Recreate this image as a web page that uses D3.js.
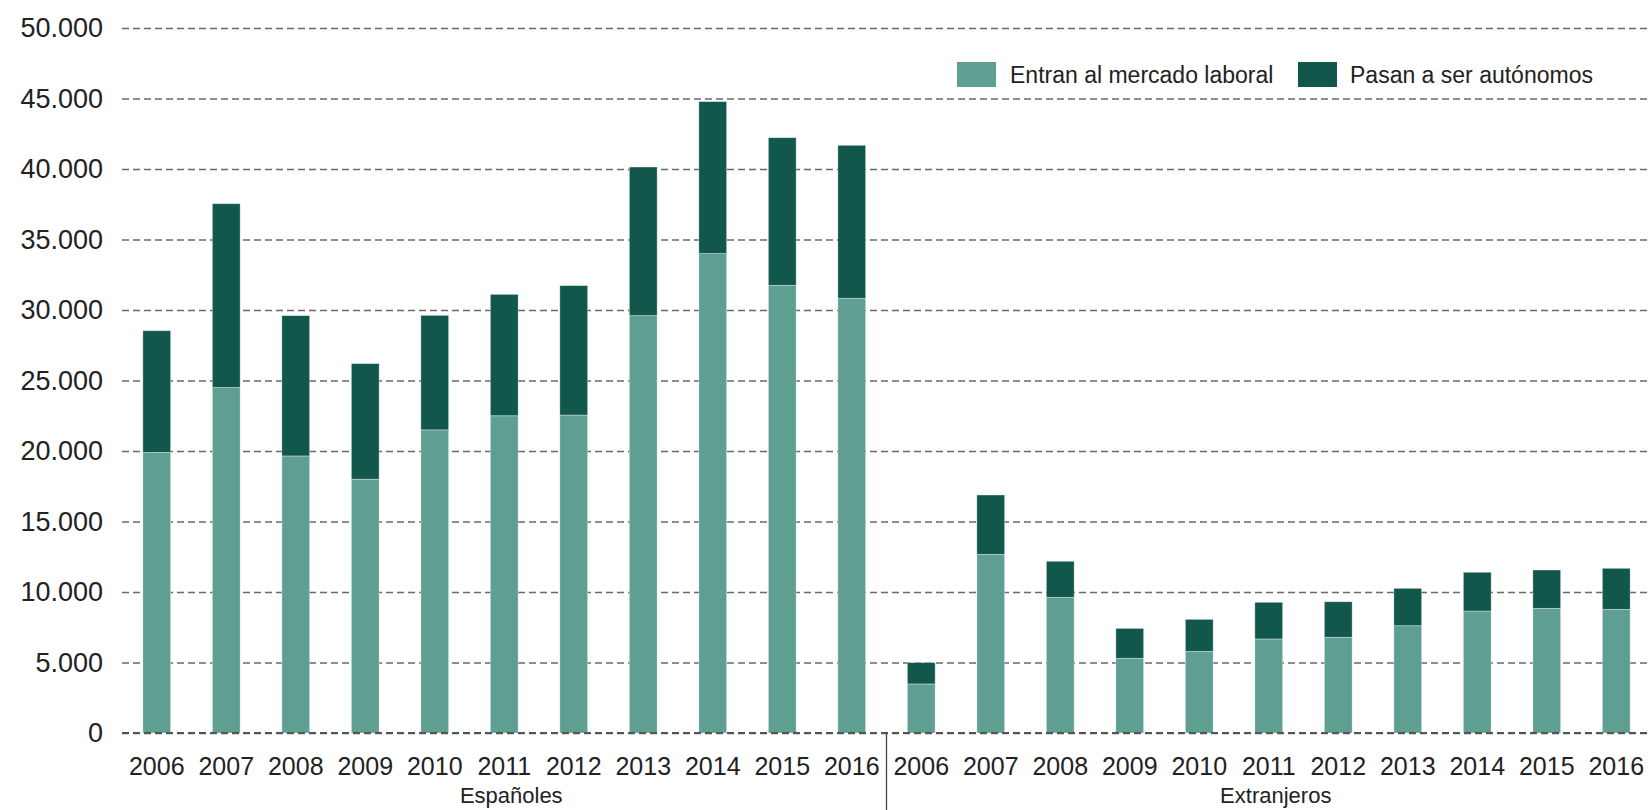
<!DOCTYPE html>
<html>
<head>
<meta charset="utf-8">
<script src="https://cdn.jsdelivr.net/npm/d3@7"></script>
<style>
  html, body { margin: 0; padding: 0; background: #fff; }
  svg { display: block; font-family: "Liberation Sans", Arial, sans-serif; }
</style>
</head>
<body>
<svg id="chart" width="1648" height="810"></svg>
<script>
// ---- data ----
const years = ["2006","2007","2008","2009","2010","2011","2012","2013","2014","2015","2016"];
const groups = ["Españoles", "Extranjeros"];
const seriesNames = ["Entran al mercado laboral", "Pasan a ser autónomos"];
const espEntran    = [19900, 24500, 19650, 18000, 21500, 22500, 22550, 29600, 34000, 31750, 30830];
const espAutonomos = [8630, 13040, 9950, 8200, 8120, 8610, 9180, 10540, 10780, 10470, 10850];
const extEntran    = [3480, 12670, 9620, 5300, 5790, 6670, 6790, 7610, 8650, 8840, 8770];
const extAutonomos = [1510, 4210, 2560, 2120, 2270, 2600, 2520, 2650, 2750, 2720, 2910];
const yTicks = [0, 5000, 10000, 15000, 20000, 25000, 30000, 35000, 40000, 45000, 50000];

const colors = ["#5e9f92", "#11574b"];

(function () {
// ---- build rows ----
const rows = [];
years.forEach((yr, i) => rows.push({key: "E-" + yr, group: groups[0], year: yr, entran: espEntran[i], autonomos: espAutonomos[i]}));
years.forEach((yr, i) => rows.push({key: "X-" + yr, group: groups[1], year: yr, entran: extEntran[i], autonomos: extAutonomos[i]}));

const svg = d3.select("#chart");
const W = 1648;
const mLeft = 122, mRight = 1651, mTop = 28, mBottom = 733;

const x = d3.scaleBand().domain(rows.map(d => d.key)).range([mLeft, mRight]).paddingInner(0.6).paddingOuter(0.3);
const y = d3.scaleLinear().domain([0, 50000]).range([mBottom, mTop]);

const locale = d3.formatLocale({decimal: ",", thousands: ".", grouping: [3], currency: ["", "€"]});
const fmt = locale.format(",");

// grid + y axis
const yAxis = d3.axisLeft(y).tickValues(yTicks).tickFormat(fmt)
  .tickSizeInner(-(W - mLeft)).tickSizeOuter(0).tickPadding(19);
const gy = svg.append("g").attr("transform", `translate(${mLeft},0)`).call(yAxis);
gy.select(".domain").remove();
gy.selectAll(".tick line").attr("stroke", "#6a6a6a").attr("stroke-width", 1.5).attr("stroke-dasharray", "7,4");
gy.selectAll(".tick text").attr("fill", "#222").style("font-size", "27px");

// bars
const stack = d3.stack().keys(["entran", "autonomos"]);
const stacked = stack(rows);
svg.append("g").selectAll("g").data(stacked).join("g")
  .attr("fill", (d, i) => colors[i])
  .selectAll("rect").data(d => d).join("rect")
  .attr("x", d => x(d.data.key))
  .attr("width", x.bandwidth())
  .attr("y", d => y(d[1]))
  .attr("height", d => y(d[0]) - y(d[1]))
  .attr("stroke", "rgba(255,255,255,0.45)")
  .attr("stroke-width", 0.8);

// redraw zero line on top
svg.append("line").attr("x1", mLeft).attr("x2", W).attr("y1", y(0)).attr("y2", y(0))
  .attr("stroke", "#555").attr("stroke-width", 2).attr("stroke-dasharray", "7,4");

// x axis
const xAxis = d3.axisBottom(x).tickSize(0).tickPadding(24).tickFormat(k => k.slice(2));
const gx = svg.append("g").attr("transform", `translate(0,${mBottom})`).call(xAxis);
gx.select(".domain").remove();
gx.selectAll(".tick text").attr("fill", "#222").style("font-size", "25px");

// separator
const lastE = x("E-2016") + x.bandwidth() / 2;
const firstX = x("X-2006") + x.bandwidth() / 2;
const sepX = (lastE + firstX) / 2;
svg.append("line").attr("x1", sepX).attr("x2", sepX).attr("y1", mBottom).attr("y2", 810)
  .attr("stroke", "#444").attr("stroke-width", 1.3);

// group labels
groups.forEach((g) => {
  const keys = rows.filter(r => r.group === g).map(r => r.key);
  const c0 = x(keys[0]) + x.bandwidth() / 2;
  const c1 = x(keys[keys.length - 1]) + x.bandwidth() / 2;
  svg.append("text").attr("x", (c0 + c1) / 2 + 7).attr("y", 803)
    .attr("text-anchor", "middle").attr("fill", "#222").style("font-size", "22px").text(g);
});

// legend
const legendItems = [{x: 957, tx: 1010}, {x: 1298, tx: 1350}];
seriesNames.forEach((n, i) => {
  svg.append("rect").attr("x", legendItems[i].x).attr("y", 62).attr("width", 39).attr("height", 25).attr("fill", colors[i]);
  svg.append("text").attr("x", legendItems[i].tx).attr("y", 83).attr("fill", "#222").style("font-size", "23px").text(n);
});
})();
</script>
</body>
</html>
